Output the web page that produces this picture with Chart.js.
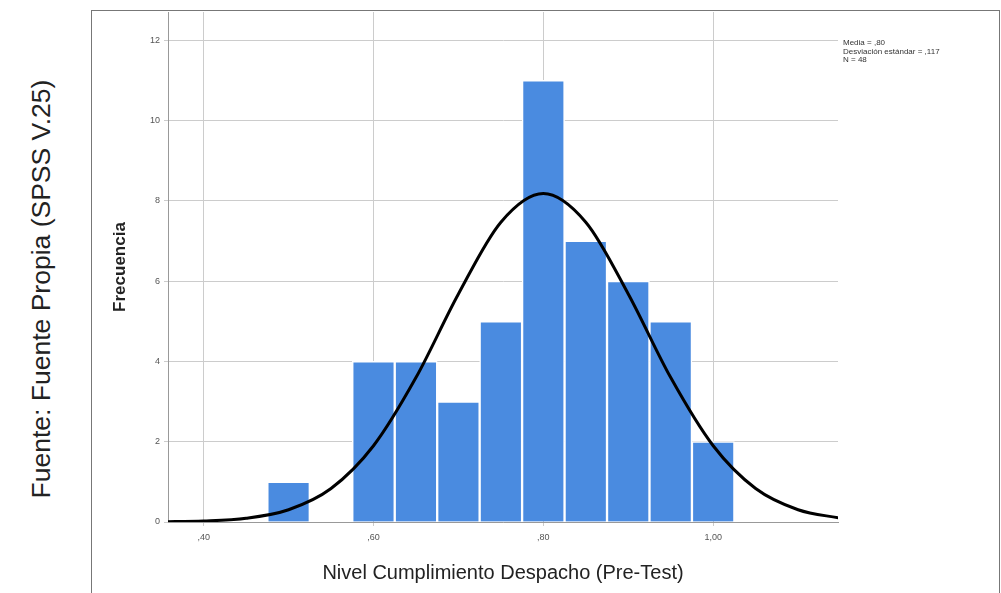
<!DOCTYPE html>
<html>
<head>
<meta charset="utf-8">
<script src="https://cdn.jsdelivr.net/npm/chart.js@4"></script>
<style>
  html, body { margin: 0; padding: 0; background: #fff; }
  #wrap { position: relative; width: 1001px; height: 593px; overflow: hidden; }
  #frame { position: absolute; left: 91px; top: 10px; width: 909px; height: 590px;
           border: 1px solid #777; box-sizing: border-box; }
  #fuente { position: absolute; left: 41px; top: 289px; transform: translate(-50%, -50%) rotate(-90deg);
            white-space: nowrap; font-family: "Liberation Sans", Arial, sans-serif; font-size: 26.5px; color: #222; }
  #chart { position: absolute; left: 0; top: 0; }
</style>
</head>
<body>
<div id="wrap">
  <div id="frame"></div>
  <div id="fuente">Fuente: Fuente Propia (SPSS V.25)</div>
  <canvas id="chart" width="1001" height="593"></canvas>
</div>
<script>
// histogram bins (centre of each bin) and counts
var binCenters = [0.50, 0.55, 0.60, 0.65, 0.70, 0.75, 0.80, 0.85, 0.90, 0.95, 1.00];
var binCounts  = [1, 0, 4, 4, 3, 5, 11, 7, 6, 5, 2];

// normal curve
var curveX = [0.35, 0.40, 0.45, 0.50, 0.55, 0.60, 0.65, 0.70, 0.75, 0.80, 0.85, 0.90, 0.95, 1.00, 1.05, 1.10, 1.15];
var curveY = [0.005, 0.024, 0.093, 0.306, 0.834, 1.898, 3.596, 5.678, 7.466, 8.18, 7.466, 5.678, 3.596, 1.898, 0.834, 0.306, 0.093];

var statsLines = ['Media = ,80', 'Desviación estándar = ,117', 'N = 48'];

function fmtComma(v) {
    var s = v.toFixed(2).replace('.', ',');
    return s.replace(/^0/, '');
}

var statsPlugin = {
    id: 'stats',
    afterDraw: function(chart) {
        var c = chart.ctx;
        c.save();
        c.font = '8px "Liberation Sans", Arial, sans-serif';
        c.fillStyle = '#333';
        c.textBaseline = 'middle';
        statsLines.forEach(function(t, i) {
            c.fillText(t, 843, 43 + i * 8.5);
        });
        c.restore();
    }
};

var ctx = document.getElementById('chart').getContext('2d');
var chart = new Chart(ctx, {
    type: 'bar',
    data: {
        datasets: [{
            type: 'line',
            data: curveX.map(function(x, i) { return { x: x, y: curveY[i] }; }),
            borderColor: '#000',
            borderWidth: 3,
            pointRadius: 0,
            tension: 0.4,
            cubicInterpolationMode: 'monotone',
            order: 0
        }, {
            data: binCenters.map(function(x, i) { return { x: x, y: binCounts[i] }; }),
            backgroundColor: '#4a8be0',
            borderColor: '#ffffff',
            borderWidth: 1.5,
            barPercentage: 1,
            categoryPercentage: 1,
            order: 1
        }]
    },
    options: {
        responsive: false,
        animation: false,
        layout: { padding: { left: 91, right: 163, top: 12, bottom: 0 } },
        plugins: { legend: { display: false }, tooltip: { enabled: false } },
        scales: {
            x: {
                type: 'linear',
                offset: false,
                min: 0.358,
                max: 1.147,
                afterFit: function(s) { s.height = 71; },
                ticks: {
                    stepSize: 0.2,
                    includeBounds: false,
                    maxRotation: 0,
                    padding: 6,
                    color: '#555',
                    font: { family: '"Liberation Sans", Arial, sans-serif', size: 9 },
                    callback: function(v) { return fmtComma(v); }
                },
                grid: { color: '#cccccc', tickLength: 4, offset: false },
                border: { color: '#999' },
                title: {
                    display: true,
                    text: 'Nivel Cumplimiento Despacho (Pre-Test)',
                    color: '#222',
                    font: { family: '"Liberation Sans", Arial, sans-serif', size: 20 },
                    padding: { top: 0, bottom: 8 }
                }
            },
            y: {
                min: 0,
                max: 12.7,
                afterFit: function(s) { s.width = 77; },
                ticks: {
                    stepSize: 2,
                    includeBounds: false,
                    padding: 4,
                    color: '#555',
                    font: { family: '"Liberation Sans", Arial, sans-serif', size: 9 }
                },
                grid: { color: '#cccccc', tickLength: 4 },
                border: { color: '#999' },
                title: {
                    display: true,
                    text: 'Frecuencia',
                    color: '#222',
                    font: { family: '"Liberation Sans", Arial, sans-serif', size: 17, weight: 'bold' },
                    padding: { top: 19, bottom: 0 }
                }
            }
        }
    },
    plugins: [statsPlugin]
});
</script>
</body>
</html>
